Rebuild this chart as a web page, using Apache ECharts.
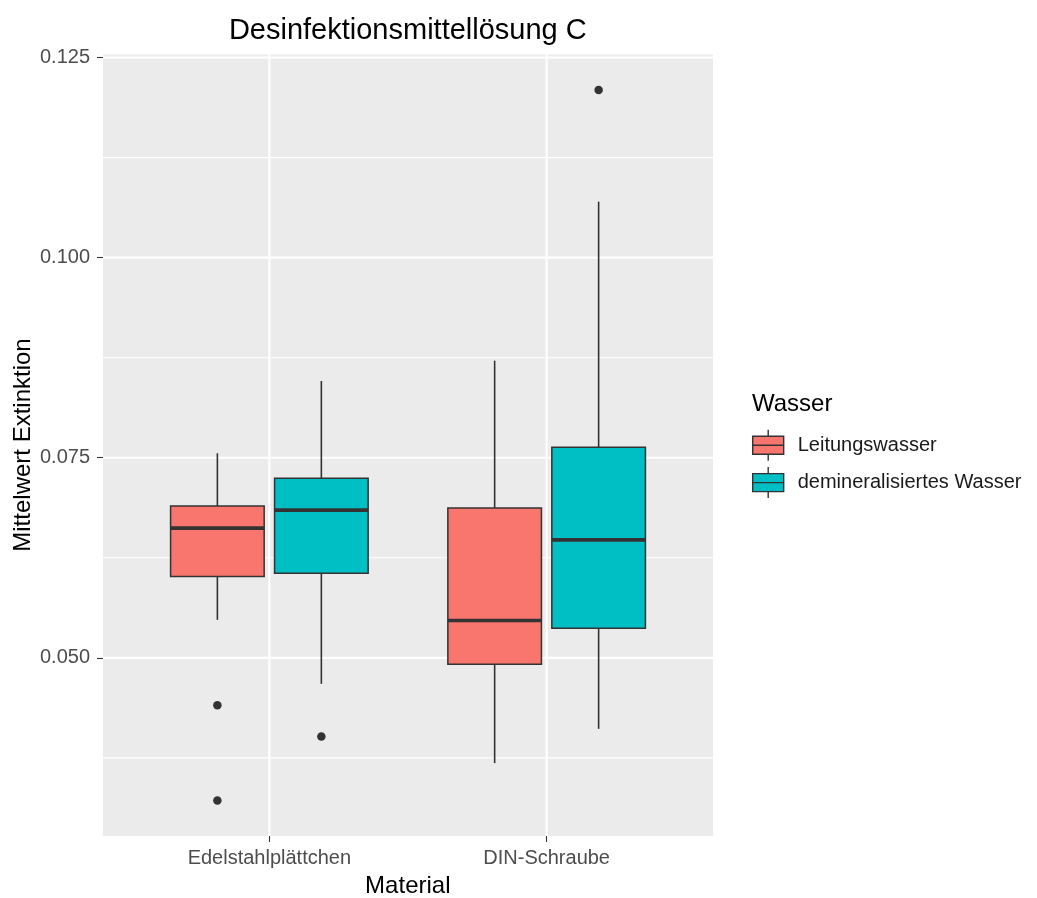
<!DOCTYPE html>
<html>
<head>
<meta charset="utf-8">
<title>Desinfektionsmittellösung C</title>
<script src="https://cdn.jsdelivr.net/npm/echarts@6/dist/echarts.min.js"></script>
<style>
  html, body { margin: 0; padding: 0; background: #ffffff; }
  #chart { width: 1037px; height: 898px; }
</style>
</head>
<body>
<div id="chart"></div>
<script>
// Material categories on the x axis and the two water types (fill groups)
const categories = ['Edelstahlplättchen', 'DIN-Schraube'];
const waterTypes = ['Leitungswasser', 'demineralisiertes Wasser'];

// Box statistics per material: [lower whisker, Q1, median, Q3, upper whisker]
const leitungswasserStats = [
  [0.05475, 0.06015, 0.06620, 0.06898, 0.07556],
  [0.03685, 0.04921, 0.05466, 0.06873, 0.08713]
];
const demineralisiertStats = [
  [0.04675, 0.06058, 0.06845, 0.07244, 0.08459],
  [0.04113, 0.05371, 0.06474, 0.07631, 0.10699]
];

// Outliers: [material index, value]
const leitungswasserOutliers = [[0, 0.04409], [0, 0.03218]];
const demineralisiertOutliers = [[0, 0.04017], [1, 0.12094]];

// Axis ticks and grid
const yMajorTicks = [0.050, 0.075, 0.100, 0.125];
const yMinorTicks = [0.0375, 0.0625, 0.0875, 0.1125];

const fillColors = ['#F8766D', '#00BFC4'];
const inkColor = '#333333';
const DODGE = 0.375;           // distance between the two boxes of one material
const BOX_WIDTH = 0.3375;      // width of one box in x units

const statsByGroup = [leitungswasserStats, demineralisiertStats];
const outliersByGroup = [leitungswasserOutliers, demineralisiertOutliers];
const groupOffset = g => (g - 0.5) * DODGE;
const catPos = i => i + 1;

// y range: data range padded by 5 % on both ends
const allValues = [];
statsByGroup.forEach(s => s.forEach(r => allValues.push(...r)));
outliersByGroup.forEach(o => o.forEach(p => allValues.push(p[1])));
const dMin = Math.min(...allValues), dMax = Math.max(...allValues);
const pad = (dMax - dMin) * 0.05;
const yMin = dMin - pad, yMax = dMax + pad;

function boxRenderer(offset, fill) {
  return function (params, api) {
    const pos = api.value(0) + offset;
    const yLo = api.coord([pos, api.value(1)])[1];
    const yQ1 = api.coord([pos, api.value(2)])[1];
    const yMed = api.coord([pos, api.value(3)])[1];
    const yQ3 = api.coord([pos, api.value(4)])[1];
    const yHi = api.coord([pos, api.value(5)])[1];
    const cx = api.coord([pos, api.value(3)])[0];
    const half = api.size([BOX_WIDTH, 0])[0] / 2;
    const lineStyle = { stroke: inkColor, lineWidth: 1.6 };
    return {
      type: 'group',
      children: [
        { type: 'line', shape: { x1: cx, y1: yHi, x2: cx, y2: yQ3 }, style: lineStyle },
        { type: 'line', shape: { x1: cx, y1: yQ1, x2: cx, y2: yLo }, style: lineStyle },
        { type: 'rect', shape: { x: cx - half, y: yQ3, width: 2 * half, height: yQ1 - yQ3 },
          style: { fill: fill, stroke: inkColor, lineWidth: 1.5 } },
        { type: 'line', shape: { x1: cx - half, y1: yMed, x2: cx + half, y2: yMed },
          style: { stroke: inkColor, lineWidth: 3.6 } }
      ]
    };
  };
}

function hGridRenderer(params, api) {
  const cs = params.coordSys;
  const y = api.coord([0.4, api.value(0)])[1];
  return { type: 'line', silent: true,
    shape: { x1: cs.x, y1: y, x2: cs.x + cs.width, y2: y },
    style: { stroke: '#ffffff', lineWidth: api.value(1) } };
}
function vGridRenderer(params, api) {
  const cs = params.coordSys;
  const x = api.coord([api.value(0), yMin])[0];
  return { type: 'line', silent: true,
    shape: { x1: x, y1: cs.y, x2: x, y2: cs.y + cs.height },
    style: { stroke: '#ffffff', lineWidth: api.value(1) } };
}

const series = [
  { type: 'custom', name: 'hgrid', renderItem: hGridRenderer, z: 1, silent: true,
    data: yMinorTicks.map(v => [v, 1.1]).concat(yMajorTicks.map(v => [v, 2.1])),
    encode: { y: 0 } },
  { type: 'custom', name: 'vgrid', renderItem: vGridRenderer, z: 1, silent: true,
    data: categories.map((c, i) => [catPos(i), 2.1]), encode: { x: 0 } }
];

waterTypes.forEach((name, g) => {
  series.push({
    type: 'custom', name: name, z: 3,
    itemStyle: { color: fillColors[g] },
    renderItem: boxRenderer(groupOffset(g), fillColors[g]),
    encode: { x: 0, y: [1, 2, 3, 4, 5] },
    data: statsByGroup[g].map((s, i) => [catPos(i)].concat(s))
  });
  series.push({
    type: 'scatter', name: name + ' (Ausreißer)', z: 4,
    symbolSize: 8.5, itemStyle: { color: inkColor, opacity: 1 },
    data: outliersByGroup[g].map(p => [catPos(p[0]) + groupOffset(g), p[1]])
  });
});

const chart = echarts.init(document.getElementById('chart'), null, { renderer: 'canvas' });
chart.setOption({
  backgroundColor: '#ffffff',
  animation: false,
  grid: { left: 103, right: 324, top: 54.5, bottom: 62, show: true,
          backgroundColor: '#EBEBEB', borderWidth: 0 },
  xAxis: {
    type: 'value', min: 0.4, max: 2.6,
    axisLine: { show: false },
    splitLine: { show: false },
    axisTick: { show: true, length: 6, customValues: categories.map((c, i) => catPos(i)),
                lineStyle: { color: inkColor, width: 1.1 } },
    axisLabel: { customValues: categories.map((c, i) => catPos(i)),
                 formatter: v => categories[Math.round(v) - 1],
                 margin: 12, color: '#4d4d4d', fontSize: 20,
                 fontFamily: 'Liberation Sans, Arial, sans-serif' }
  },
  yAxis: {
    type: 'value', min: yMin, max: yMax,
    axisLine: { show: false },
    splitLine: { show: false },
    axisTick: { show: true, length: 6, customValues: yMajorTicks,
                lineStyle: { color: inkColor, width: 1.1 } },
    axisLabel: { customValues: yMajorTicks, formatter: v => v.toFixed(3),
                 margin: 13, color: '#4d4d4d', fontSize: 20,
                 fontFamily: 'Liberation Sans, Arial, sans-serif' }
  },
  legend: {
    data: waterTypes,
    orient: 'vertical',
    left: 747, top: 424,
    itemWidth: 31, itemHeight: 31, itemGap: 5,
    icon: 'path://M15.5,0 L15.5,6.5 M0,6.5 L31,6.5 L31,24.5 L0,24.5 Z M0,15.5 L31,15.5 M15.5,24.5 L15.5,31',
    itemStyle: { borderColor: inkColor, borderWidth: 1.4 },
    textStyle: { fontSize: 20, color: '#1a1a1a', padding: [0, 0, 0, 9],
                 fontFamily: 'Liberation Sans, Arial, sans-serif' },
    selectedMode: false
  },
  graphic: [
    { type: 'text', x: 407.8, y: 31, silent: true,
      style: { text: 'Desinfektionsmittellösung C', fill: '#000000', font: '29px "Liberation Sans", Arial, sans-serif',
               textAlign: 'center', textVerticalAlign: 'middle' } },
    { type: 'text', x: 407.8, y: 886, silent: true,
      style: { text: 'Material', fill: '#000000', font: '24px "Liberation Sans", Arial, sans-serif',
               textAlign: 'center', textVerticalAlign: 'middle' } },
    { type: 'text', x: 23, y: 445, rotation: Math.PI / 2, silent: true,
      style: { text: 'Mittelwert Extinktion', fill: '#000000', font: '24px "Liberation Sans", Arial, sans-serif',
               textAlign: 'center', textVerticalAlign: 'middle' } },
    { type: 'text', x: 752, y: 404, silent: true,
      style: { text: 'Wasser', fill: '#000000', font: '24px "Liberation Sans", Arial, sans-serif',
               textAlign: 'left', textVerticalAlign: 'middle' } }
  ],
  series: series
});
</script>
</body>
</html>
